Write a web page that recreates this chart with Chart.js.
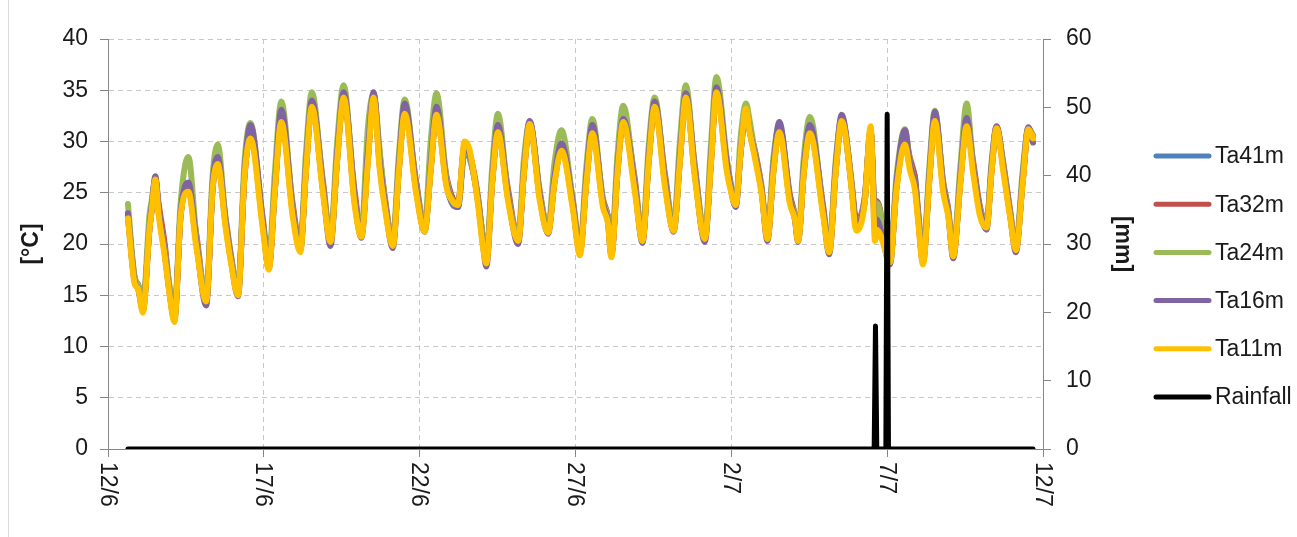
<!DOCTYPE html>
<html>
<head>
<meta charset="utf-8">
<script src="https://cdn.jsdelivr.net/npm/chart.js@4/dist/chart.umd.min.js"></script>
<style>
html,body{margin:0;padding:0;background:#fff;}
#wrap{width:1297px;height:537px;position:relative;}
</style>
</head>
<body>
<div id="wrap"><canvas id="c" width="1297" height="537"></canvas></div>
<script>
// x tick labels (every 5 days from 12/6)
const xTickLabels = ['12/6','17/6','22/6','27/6','2/7','7/7','12/7'];
const seriesNames = ['Ta41m','Ta32m','Ta24m','Ta16m','Ta11m','Rainfall'];

// time in days since 12/6 00:00
const times = [0.64,0.85,0.97,1.12,1.33,1.40,1.52,1.62,1.82,1.97,
2.13,2.33,2.58,2.83,3.15,3.36,3.52,3.77,3.95,4.17,
4.38,4.57,4.97,5.16,5.35,5.56,5.93,6.17,6.35,6.54,
6.90,7.14,7.35,7.56,7.91,8.13,8.34,8.52,8.72,8.88,
9.14,9.33,9.52,9.89,10.16,10.35,10.54,10.86,11.07,11.23,
11.44,11.60,11.87,12.03,12.14,12.33,12.51,12.83,13.16,13.35,
13.53,13.85,14.12,14.33,14.55,14.92,15.14,15.35,15.54,15.88,
16.04,16.15,16.35,16.53,16.90,17.15,17.35,17.54,17.87,18.15,
18.35,18.54,18.83,19.15,19.35,19.52,19.85,19.95,20.14,20.30,
20.47,20.59,20.75,20.97,21.16,21.35,21.54,21.88,22.04,22.14,
22.33,22.52,22.95,23.14,23.35,23.54,23.86,23.96,24.02,24.28,
24.47,24.61,24.66,24.77,24.87,25.09,25.30,25.57,25.73,25.89,
26.00,26.15,26.35,26.53,26.80,26.96,27.12,27.35,27.55,27.76,
27.98,28.19,28.35,28.51,28.72,28.94,29.13,29.35,29.53,29.68];

const ta41m = [22.7,16.5,15.8,13.8,21.5,23.3,26.3,23.3,19.2,15.5,
12.8,22.8,25.5,20.2,14.6,25.6,28.0,22.0,18.4,15.3,
26.7,30.6,21.8,17.8,25.2,32.2,23.0,19.5,27.2,33.6,
25.2,20.4,28.2,34.5,24.2,21.0,28.4,34.5,27.6,24.0,
20.0,27.2,33.0,25.2,21.4,27.2,32.8,25.8,23.8,23.6,
29.0,28.4,24.4,20.6,18.8,26.2,31.0,24.6,20.4,27.2,
31.8,24.6,21.2,26.2,29.3,23.6,19.2,26.2,31.0,24.0,
22.6,19.0,27.2,32.0,25.6,20.4,28.2,33.5,26.0,21.4,
28.2,34.5,26.8,20.6,28.2,35.0,27.6,26.0,23.8,29.0,
33.0,31.0,28.8,25.2,20.6,27.2,31.2,24.2,22.6,20.4,
27.2,31.0,23.0,19.4,27.2,32.1,25.6,22.6,21.8,24.2,
31.0,22.2,23.0,22.4,20.6,18.4,25.6,30.0,27.6,26.6,
22.6,18.4,26.2,32.2,25.4,23.0,19.0,26.2,31.8,27.6,
23.2,21.8,27.2,31.3,27.6,23.0,19.6,26.2,31.2,30.4];

const ta32m = [22.8,16.8,16.0,14.0,21.5,23.3,26.4,24.0,20.0,15.8,
13.0,22.8,25.6,21.0,14.6,25.5,28.0,22.6,18.8,15.4,
26.6,30.8,22.4,18.0,25.2,32.4,23.8,19.8,27.2,33.8,
26.0,20.6,28.2,34.6,25.2,21.2,28.4,34.6,28.6,24.6,
20.2,27.2,33.2,26.0,21.6,27.2,33.0,26.6,24.4,24.0,
29.4,28.8,24.6,20.4,18.6,26.2,31.2,25.4,20.6,27.2,
31.8,25.2,21.4,26.2,29.4,24.2,19.4,26.2,31.2,24.4,
22.6,19.2,27.2,32.2,26.4,20.6,28.2,33.6,26.8,21.6,
28.2,34.6,27.6,20.8,28.2,35.0,28.2,26.4,24.0,29.0,
33.2,31.2,29.2,25.6,20.8,27.2,31.4,24.8,22.8,20.6,
27.2,31.2,23.6,19.6,27.2,32.2,26.0,23.0,22.2,24.6,
31.0,23.0,24.2,23.4,21.0,18.6,25.6,30.2,28.4,26.4,
23.0,18.6,26.2,32.4,26.0,23.4,19.2,26.2,32.0,28.0,
23.6,22.0,27.2,31.4,28.0,23.4,19.8,26.2,31.2,30.6];

const ta24m = [23.9,16.8,16.0,14.0,22.8,24.2,26.2,23.4,19.4,16.0,
13.2,24.0,28.5,20.8,15.0,26.8,29.7,22.4,18.6,15.6,
28.0,31.8,22.0,18.2,26.8,33.9,23.4,19.8,28.8,34.8,
25.6,20.6,29.8,35.5,24.6,21.2,31.4,34.6,29.0,24.4,
20.4,28.6,34.1,25.6,21.8,29.8,34.7,26.4,24.2,24.0,
29.2,28.6,24.4,20.6,18.6,27.6,32.7,25.0,20.8,28.4,
31.9,25.0,21.6,28.0,31.1,24.0,19.6,27.6,32.2,24.2,
22.6,19.4,28.8,33.5,26.0,20.8,29.6,34.3,26.4,21.8,
30.0,35.5,27.2,21.0,29.8,36.3,28.4,26.2,24.0,30.4,
33.7,32.0,29.0,25.4,21.0,28.4,31.6,24.4,22.8,20.8,
28.6,32.4,23.2,19.6,28.2,32.3,25.8,22.4,21.8,24.4,
31.0,22.4,24.0,23.2,20.8,18.6,26.6,31.2,28.0,25.8,
22.6,18.6,27.4,33.0,25.8,23.2,19.2,27.6,33.7,27.6,
23.4,22.0,28.0,31.4,27.8,23.2,19.8,27.2,31.3,30.6];

const ta16m = [23.0,16.4,15.6,13.5,21.6,23.6,26.6,23.6,19.2,15.4,
12.6,23.0,26.0,20.4,14.0,26.0,28.5,22.2,18.4,14.9,
27.0,31.6,22.0,17.6,25.4,33.1,23.2,19.4,27.6,34.0,
25.4,19.8,28.6,34.8,24.6,20.6,29.0,34.8,28.0,24.2,
19.6,27.6,33.7,25.4,21.2,27.6,33.4,26.0,24.0,23.6,
29.6,28.8,24.2,20.0,17.8,26.4,31.6,24.8,20.0,27.4,
32.0,24.8,21.0,26.6,29.8,23.8,19.2,26.6,31.6,24.0,
22.2,18.9,27.6,32.2,25.8,20.1,28.6,33.9,26.2,21.2,
28.6,34.7,27.0,20.2,28.6,35.3,28.0,26.0,23.6,29.2,
33.0,31.0,28.8,25.2,20.3,27.6,31.9,24.4,22.4,20.2,
27.6,31.6,23.2,19.0,27.6,32.6,25.6,22.6,21.8,24.2,
31.0,21.6,22.4,21.6,20.4,18.0,26.0,31.1,27.8,25.8,
22.4,18.2,26.6,32.9,25.6,23.0,18.6,26.6,32.3,27.4,
23.2,21.4,27.6,31.5,27.6,23.0,19.2,26.6,31.4,29.9];

const ta11m = [22.5,16.2,15.6,13.3,21.4,23.2,26.3,23.0,18.8,15.2,
12.4,22.7,25.1,19.8,14.4,25.5,27.8,21.7,18.1,15.0,
26.6,30.3,21.4,17.5,25.0,31.9,22.6,19.2,27.0,33.4,
24.9,20.2,28.0,34.3,23.9,20.7,28.0,34.3,27.2,23.6,
19.8,27.0,32.7,24.9,21.2,27.0,32.6,25.6,24.1,23.8,
30.0,29.2,23.9,19.7,18.1,26.0,30.9,24.3,20.3,27.0,
31.7,24.3,21.1,26.0,29.1,23.3,18.9,26.0,30.8,23.6,
22.0,18.7,27.0,31.9,25.2,20.3,28.0,33.4,25.6,21.3,
28.0,34.3,26.5,20.5,28.0,34.8,27.2,25.6,23.8,29.0,
33.2,30.9,28.5,24.9,20.5,27.0,30.9,23.9,22.4,20.3,
27.0,30.8,22.7,19.2,27.0,32.0,25.3,21.9,21.3,24.0,
31.5,20.3,21.4,21.0,20.1,18.2,25.3,29.7,27.2,25.3,
22.0,18.0,26.0,32.0,25.0,22.7,18.8,26.0,31.5,26.9,
22.7,21.6,27.0,31.3,27.2,22.7,19.4,26.0,31.2,30.3];

// rainfall [mm] (right axis)
const rainTimes = [0.64,24.583,24.625,24.667,24.958,25.0,25.042,29.68];
const rainfall  = [0,0,18,0,0,49,0,0];

const colors = ['#4F81BD','#C0504D','#9BBB59','#8064A2','#FFC000','#000000'];
const FONT = "'Liberation Sans', Arial, sans-serif";
const TEXT = '#1a1a1a';
const AXIS = '#868686';
const GRID = '#c8c8c8';

function pts(t, v) { return t.map((x, i) => ({x: x, y: v[i]})); }

const tempSeries = [ta41m, ta32m, ta24m, ta16m, ta11m];
const datasets = tempSeries.map((s, i) => ({
  label: seriesNames[i],
  data: pts(times, s),
  borderColor: colors[i],
  backgroundColor: colors[i],
  yAxisID: 'y',
  order: 5 - i,
  borderWidth: 6,
  cubicInterpolationMode: 'monotone'
}));
datasets.push({
  label: seriesNames[5],
  data: pts(rainTimes, rainfall),
  borderColor: colors[5],
  backgroundColor: colors[5],
  yAxisID: 'y2',
  order: 0,
  borderWidth: 5,
  tension: 0
});

const overlay = {
  id: 'overlay',
  beforeDraw(chart) {
    const ctx = chart.ctx;
    ctx.save();
    ctx.fillStyle = '#fff';
    ctx.fillRect(0, 0, chart.width, chart.height);
    ctx.strokeStyle = '#d9d9d9';
    ctx.lineWidth = 1;
    ctx.beginPath();
    ctx.moveTo(8.5, 0); ctx.lineTo(8.5, chart.height);
    ctx.stroke();
    ctx.restore();
  },
  afterDraw(chart) {
    const ctx = chart.ctx;
    const xs = chart.scales.x;
    const area = chart.chartArea;
    ctx.save();
    ctx.fillStyle = TEXT;
    ctx.font = '23px ' + FONT;
    xs.ticks.forEach((t, i) => {
      const px = xs.getPixelForValue(t.value);
      ctx.save();
      ctx.translate(px, area.bottom + 13);
      ctx.rotate(Math.PI / 2);
      ctx.textAlign = 'left';
      ctx.textBaseline = 'middle';
      ctx.fillText(xTickLabels[i] || '', 0, 1);
      ctx.restore();
    });
    // legend
    const lx0 = 1156, lx1 = 1209, tx = 1215, y0 = 156, dy = 48.2;
    chart.data.datasets.forEach((ds, i) => {
      const y = y0 + i * dy;
      ctx.strokeStyle = ds.borderColor;
      ctx.lineWidth = 5;
      ctx.lineCap = 'round';
      ctx.beginPath();
      ctx.moveTo(lx0, y); ctx.lineTo(lx1, y);
      ctx.stroke();
      ctx.fillStyle = TEXT;
      ctx.textAlign = 'left';
      ctx.textBaseline = 'middle';
      ctx.fillText(ds.label, tx, y + 1);
    });
    ctx.restore();
  }
};

new Chart(document.getElementById('c'), {
  type: 'line',
  data: { datasets: datasets },
  plugins: [overlay],
  options: {
    responsive: false,
    animation: false,
    events: [],
    layout: { padding: { left: 0, top: 39, right: 147, bottom: 80 } },
    plugins: { legend: { display: false }, tooltip: { enabled: false } },
    elements: {
      point: { radius: 0 },
      line: { borderWidth: 6, borderCapStyle: 'round', borderJoinStyle: 'round', fill: false }
    },
    scales: {
      x: {
        type: 'linear', min: 0, max: 30,
        ticks: { display: false, stepSize: 5 },
        grid: { color: GRID, lineWidth: 1, tickColor: AXIS, tickLength: 8, drawTicks: true },
        border: { display: true, color: AXIS, width: 1, dash: [5, 4] }
      },
      y: {
        position: 'left', min: 0, max: 40,
        ticks: { stepSize: 5, color: TEXT, font: { family: FONT, size: 23 }, padding: 12 },
        grid: { color: GRID, lineWidth: 1, tickColor: AXIS, tickLength: 8 },
        border: { display: true, color: AXIS, width: 1, dash: [5, 4] },
        title: { display: true, text: '[°C]', color: TEXT, font: { family: FONT, size: 23, weight: 'bold' }, padding: { top: 18, bottom: 0 } },
        afterFit(s) { s.width = 108; }
      },
      y2: {
        position: 'right', min: 0, max: 60,
        ticks: { stepSize: 10, color: TEXT, font: { family: FONT, size: 23 }, padding: 15 },
        grid: { drawOnChartArea: false, tickColor: AXIS, tickLength: 8 },
        border: { display: true, color: AXIS, width: 1 },
        title: { display: true, text: '[mm]', color: TEXT, font: { family: FONT, size: 23, weight: 'bold' }, padding: { top: 14, bottom: 0 } },
        afterFit(s) { s.width = 107; }
      }
    }
  }
});
</script>
</body>
</html>
